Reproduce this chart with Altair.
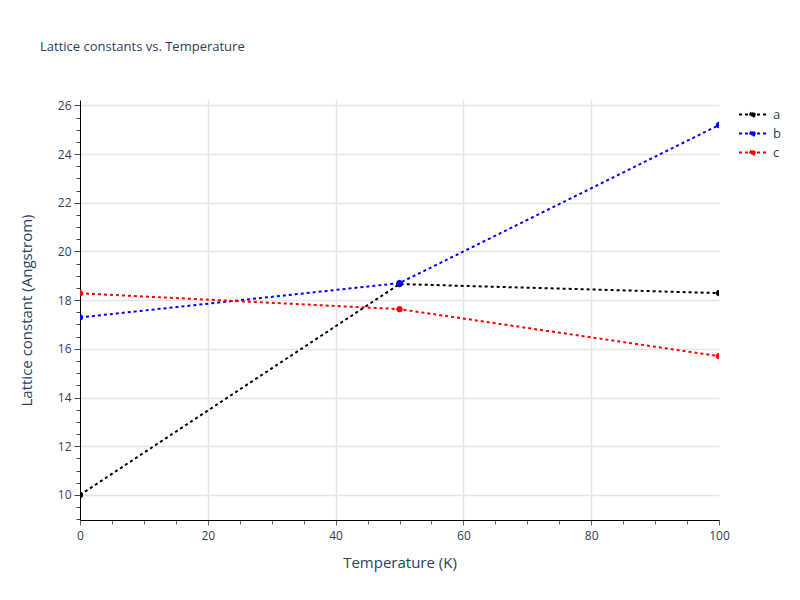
import altair as alt
import pandas as pd

temperature = [0, 50, 100]
a_values = [10.0, 18.66, 18.29]
b_values = [17.29, 18.70, 25.19]
c_values = [18.28, 17.63, 15.70]
series_names = ["a", "b", "c"]
series_colors = ["black", "blue", "red"]
x_ticks = list(range(0, 101, 5))
y_ticks = [9 + 0.5 * i for i in range(35)]

rows = []
for name, vals in zip(series_names, [a_values, b_values, c_values]):
    for t, v in zip(temperature, vals):
        rows.append({"T": t, "value": v, "series": name})
df = pd.DataFrame(rows)

TEXT = "#2a3f5f"
FONT = "Open Sans"
GRID = "#e5e5e5"

legend_symbol = ("M-2.7,0H2.7M0.45,0C0.45,0.249,0.249,0.45,0,0.45C-0.249,0.45,-0.45,0.249,-0.45,0"
                 "C-0.45,-0.249,-0.249,-0.45,0,-0.45C0.249,-0.45,0.45,-0.249,0.45,0Z")
legend = alt.Legend(
    title=None, orient="none", legendX=666, legendY=8,
    symbolType=legend_symbol, symbolSize=100, symbolStrokeWidth=2,
    symbolDash=[3, 3], labelFontSize=13, labelColor=TEXT, labelFont=FONT,
    labelOffset=14, rowPadding=5, padding=0,
)

x_axis = alt.Axis(
    title="Temperature (K)", values=x_ticks,
    labelExpr="datum.value % 20 == 0 ? format(datum.value, 'd') : ''",
    labelFlush=False,
    grid=True, gridColor=GRID, gridWidth=1.5,
    gridOpacity={"condition": {"test": "datum.value % 20 == 0 && datum.value > 0 && datum.value < 100", "value": 1}, "value": 0},
    tickSize={"condition": {"test": "datum.value % 20 == 0", "value": 5}, "value": 4},
    tickColor="#666", domainColor="black", domainWidth=1,
    labelFont=FONT, labelFontSize=12, labelColor=TEXT, labelPadding=5,
    titleFont=FONT, titleFontSize=15, titleColor=TEXT, titleFontWeight="normal", titlePadding=14,
)
y_axis = alt.Axis(
    title="Lattice constant (Angstrom)", values=y_ticks,
    labelExpr="datum.value % 2 == 0 ? format(datum.value, 'd') : ''",
    grid=True, gridColor=GRID, gridWidth=1.5,
    gridOpacity={"condition": {"test": "datum.value % 2 == 0", "value": 1}, "value": 0},
    tickSize={"condition": {"test": "datum.value % 2 == 0", "value": 6}, "value": 4},
    tickColor="#444", domainColor="black", domainWidth=1,
    labelFont=FONT, labelFontSize=12, labelColor=TEXT, labelPadding=3,
    titleFont=FONT, titleFontSize=15, titleColor=TEXT, titleFontWeight="normal", titlePadding=23,
)

x_enc = alt.X("T:Q", scale=alt.Scale(domain=[0, 100], nice=False, zero=False), axis=x_axis)
y_enc = alt.Y("value:Q", scale=alt.Scale(domain=[8.97, 26.22], nice=False, zero=False), axis=y_axis)
cscale = alt.Scale(domain=series_names, range=series_colors)

line = alt.Chart(df).mark_line(strokeDash=[3, 3], strokeWidth=2, clip=True).encode(
    x=x_enc, y=y_enc,
    stroke=alt.Stroke("series:N", scale=cscale, legend=legend),
)
points = alt.Chart(df).mark_point(filled=True, size=30, opacity=1, strokeWidth=1, clip=True).encode(
    x=x_enc, y=y_enc,
    fill=alt.Fill("series:N", scale=cscale, legend=legend),
    stroke=alt.Stroke("series:N", scale=cscale, legend=legend),
)

chart = alt.layer(line, points).properties(
    width=639, height=420,
    title=alt.Title("Lattice constants vs. Temperature", anchor="start", frame="group",
                    dx=-40, offset=39, baseline="middle", fontSize=13, font=FONT,
                    color=TEXT, fontWeight="normal"),
    autosize=alt.AutoSizeParams(type="none"),
    padding={"left": 72, "top": 92, "right": 73, "bottom": 72},
).configure_view(stroke=None)

chart.save("out.html", embed_options={"renderer": "svg", "actions": False})
